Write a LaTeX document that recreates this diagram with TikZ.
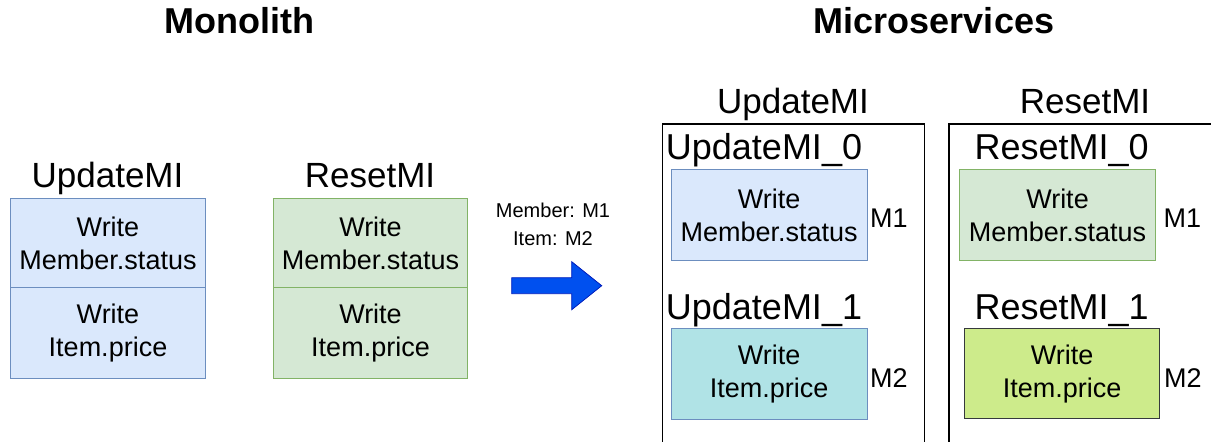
\documentclass[tikz,border=0pt]{standalone}
\usepackage{fontspec}
\setmainfont{Liberation Sans}
\definecolor{blueFill}{HTML}{DAE8FC}
\definecolor{blueLine}{HTML}{6C8EBF}
\definecolor{greenFill}{HTML}{D5E8D4}
\definecolor{greenLine}{HTML}{82B366}
\definecolor{tealFill}{HTML}{B0E3E6}
\definecolor{limeFill}{HTML}{CDEB8B}
\definecolor{limeLine}{HTML}{36393D}
\definecolor{arrowFill}{HTML}{0050EF}
\definecolor{arrowLine}{HTML}{001DBC}
\begin{document}
\begin{tikzpicture}[x=1pt,y=-1pt,
  heading/.style={font=\fontsize{36}{40}\selectfont\bfseries, anchor=base},
  grouplabel/.style={font=\fontsize{35}{40}\selectfont, anchor=base},
  partlabel/.style={font=\fontsize{36}{40}\selectfont, anchor=base},
  machine/.style={font=\fontsize{27}{32}\selectfont, anchor=west, inner sep=0},
  note/.style={font=\fontsize{20}{28}\selectfont, align=center, inner sep=0},
  cell/.style={draw, line width=1pt, anchor=north west, inner sep=0,
    align=center, font=\fontsize{27}{33}\selectfont},
  bluecell/.style={cell, fill=blueFill, draw=blueLine},
  greencell/.style={cell, fill=greenFill, draw=greenLine},
  tealcell/.style={cell, fill=tealFill, draw=blueLine},
  limecell/.style={cell, fill=limeFill, draw=limeLine},
  frame/.style={draw=black, line width=1.3pt, anchor=north west, inner sep=0}
]
\useasboundingbox (0,0) rectangle (1211,442);
\clip (0,0) rectangle (1211,442);

% headings
\node[heading] (monolith) at (239,33) {Monolith};
\node[heading] (micro) at (934,33) {Microservices};

% monolith services
\node[grouplabel] (mUpdate) at (107.5,187) {UpdateMI};
\node[bluecell, minimum width=195, minimum height=89] (mUpdateA) at (10,198)
  {Write\\Member.status};
\node[bluecell, minimum width=195, minimum height=91] (mUpdateB) at (10,287)
  {Write\\Item.price};

\node[grouplabel] (mReset) at (370,187) {ResetMI};
\node[greencell, minimum width=194, minimum height=89] (mResetA) at (273,198)
  {Write\\Member.status};
\node[greencell, minimum width=194, minimum height=91] (mResetB) at (273,287)
  {Write\\Item.price};

% split mapping and transition arrow
\node[note] (mapping) at (553,224) {Member: M1\\Item: M2};
\fill[arrowFill, draw=arrowLine, line width=0.8pt]
  (511.7,277.7) -- (571.7,277.7) -- (571.7,261.7) -- (601.7,285.7)
  -- (571.7,309.7) -- (571.7,293.7) -- (511.7,293.7) -- cycle;

% microservice frames
\node[grouplabel] (sUpdate) at (793,113) {UpdateMI};
\node[frame, minimum width=262.3, minimum height=340] (uFrame) at (661.7,123.3) {};
\node[grouplabel] (sReset) at (1085,113) {ResetMI};
\node[frame, minimum width=262.4, minimum height=340] (rFrame) at (948.3,123.3) {};

% UpdateMI partitions
\node[partlabel] (u0) at (764,159) {UpdateMI\_0};
\node[bluecell, minimum width=196, minimum height=90.7] (u0box) at (670.7,169.3)
  {Write\\Member.status};
\node[machine] (u0m) at (870,218) {M1};
\node[partlabel] (u1) at (764,319) {UpdateMI\_1};
\node[tealcell, minimum width=196, minimum height=91] (u1box) at (670.7,328.3)
  {Write\\Item.price};
\node[machine] (u1m) at (870,378) {M2};

% ResetMI partitions
\node[partlabel] (r0) at (1061.7,159) {ResetMI\_0};
\node[greencell, minimum width=196, minimum height=90.7] (r0box) at (959,169.3)
  {Write\\Member.status};
\node[machine] (r0m) at (1163.5,218) {M1};
\node[partlabel] (r1) at (1061.7,319) {ResetMI\_1};
\node[limecell, minimum width=195.3, minimum height=90] (r1box) at (964,328.3)
  {Write\\Item.price};
\node[machine] (r1m) at (1164,378) {M2};
\end{tikzpicture}
\end{document}
